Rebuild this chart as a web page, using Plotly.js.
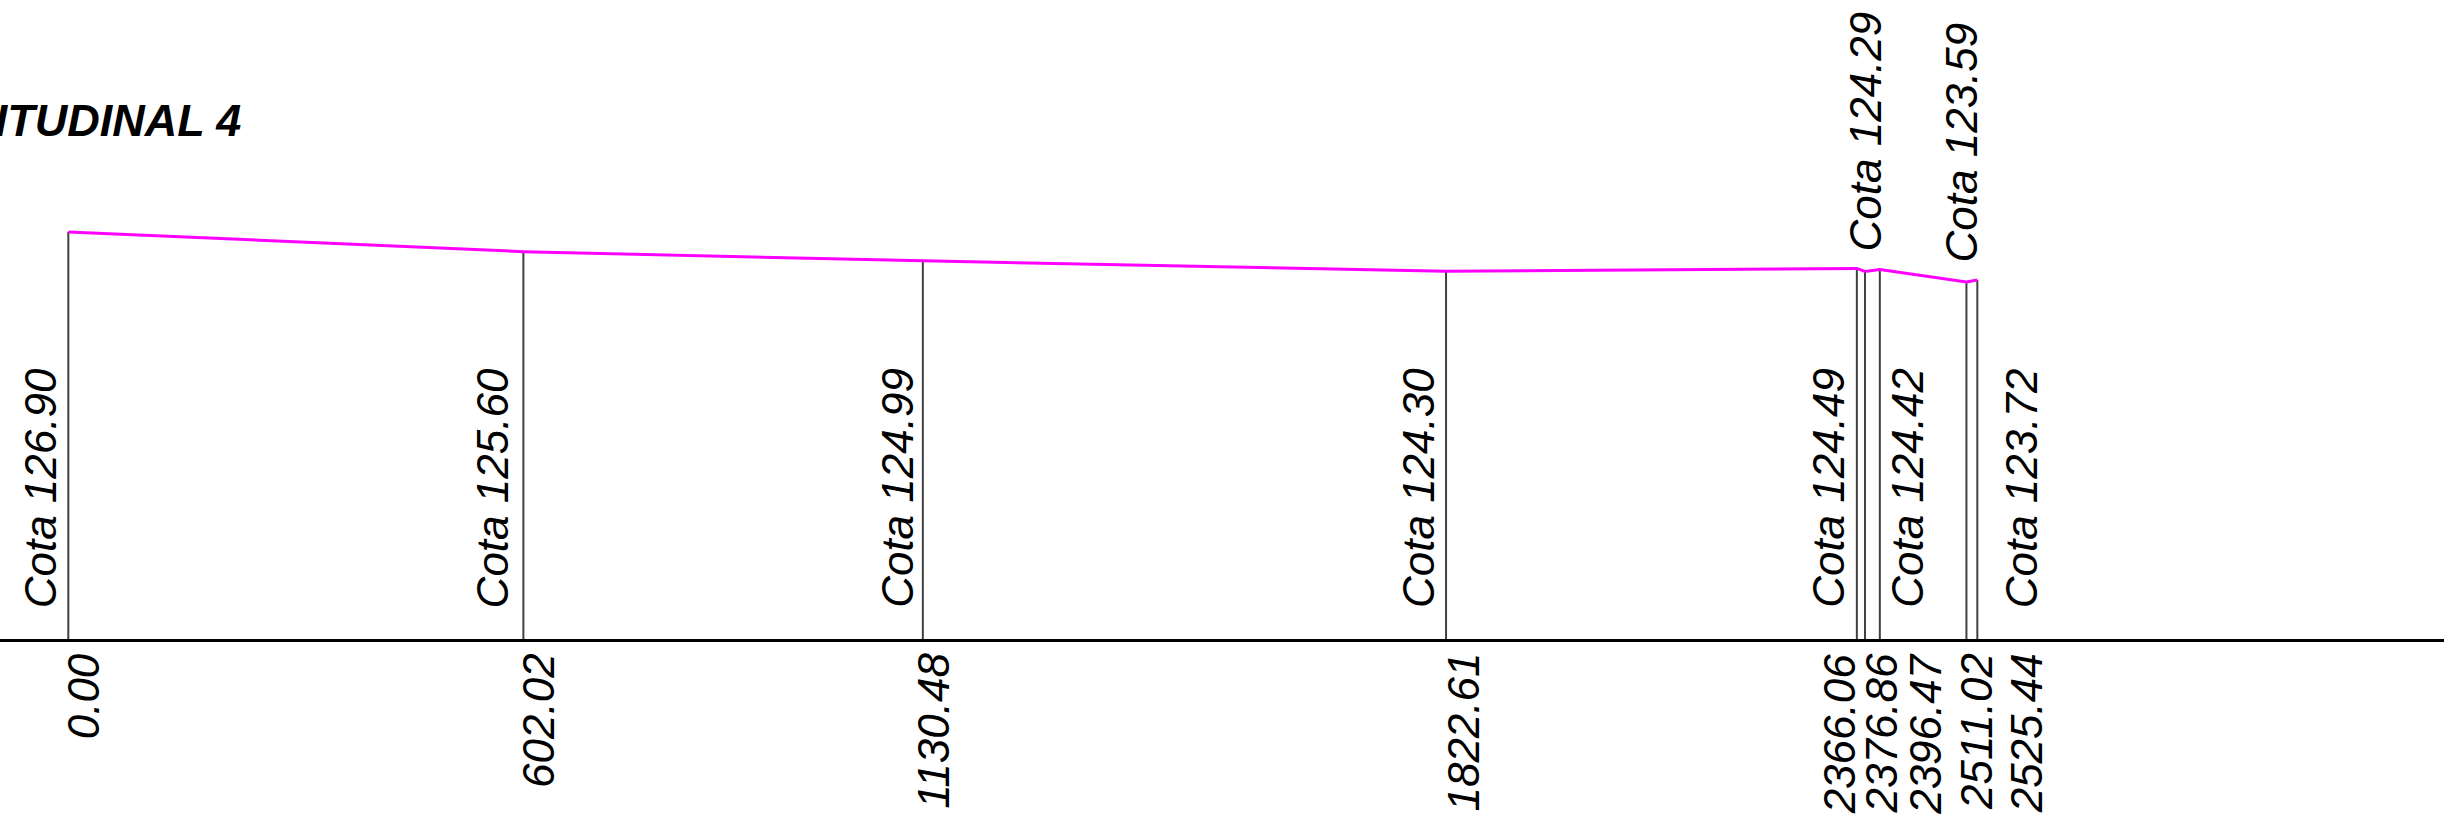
<!DOCTYPE html>
<html><head><meta charset="utf-8">
<script src="https://cdn.plot.ly/plotly-3.0.1.min.js"></script>
<style>html,body{margin:0;padding:0;background:#fff;overflow:hidden}#chart{width:2444px;height:816px}</style>
</head><body><div id="chart"></div>
<script>
// ---- data ----
const distances = [0.00, 602.02, 1130.48, 1822.61, 2366.06, 2376.86, 2396.47, 2511.02, 2525.44];
const elevations = [126.90, 125.60, 124.99, 124.30, 124.49, 124.29, 124.42, 123.59, 123.72];
const distanceLabels = ['0.00', '602.02', '1130.48', '1822.61', '2366.06', '2376.86', '2396.47', '2511.02', '2525.44'];
const elevationLabels = ['Cota 126.90', 'Cota 125.60', 'Cota 124.99', 'Cota 124.30', 'Cota 124.49', 'Cota 124.29', 'Cota 124.42', 'Cota 123.59', 'Cota 123.72'];
const datumElevation = 100;
const titleText = 'PERFIL LONGITUDINAL 4';

// ---- label placement (layout only) ----
const cotaSide = ['below', 'below', 'below', 'below', 'below', 'above', 'below', 'above', 'below'];
const cotaXShift = [-28, -31, -26, -28, -29, 0, 27, -5, 44];
const distXShift = [15, 15, 10, 17, -17, 16, 45, 10, 49];

const labelFont = {family: 'Liberation Sans, Arial, sans-serif', size: 44, color: '#000', style: 'italic'};

// stems from datum to terrain
const stemX = [], stemY = [];
distances.forEach((d, i) => { stemX.push(d, d, null); stemY.push(datumElevation, elevations[i], null); });

const traces = [
  {x: stemX, y: stemY, type: 'scatter', mode: 'lines', line: {color: '#404040', width: 2}, hoverinfo: 'skip', showlegend: false},
  {x: distances, y: elevations, type: 'scatter', mode: 'lines', line: {color: '#ff00ff', width: 3}, showlegend: false}
];

const annotations = [];
distances.forEach((d, i) => {
  const above = cotaSide[i] === 'above';
  annotations.push({
    x: d, y: above ? elevations[i] : datumElevation, xref: 'x', yref: 'y',
    text: elevationLabels[i], showarrow: false, textangle: -90,
    xanchor: 'center', yanchor: 'bottom', xshift: cotaXShift[i], yshift: above ? 18 : 29,
    font: labelFont
  });
  annotations.push({
    x: d, y: datumElevation, xref: 'x', yref: 'y',
    text: distanceLabels[i], showarrow: false, textangle: -90,
    xanchor: 'center', yanchor: 'top', xshift: distXShift[i], yshift: -12,
    font: labelFont
  });
});
annotations.push({
  x: 243 / 2444, y: 0.811, xref: 'paper', yref: 'paper', xanchor: 'right', yanchor: 'middle',
  text: titleText, showarrow: false,
  font: {family: 'Liberation Sans, Arial, sans-serif', size: 45, color: '#000', style: 'italic', weight: 700}
});

const layout = {
  width: 2444, height: 816,
  margin: {l: 0, r: 0, t: 0, b: 177, pad: 0},
  paper_bgcolor: '#fff', plot_bgcolor: '#fff',
  showlegend: false,
  xaxis: {range: [-90.35, 3142.8], showgrid: false, zeroline: false, showticklabels: false, ticks: '',
          showline: true, linecolor: '#000', linewidth: 3, fixedrange: true},
  yaxis: {range: [datumElevation, 142.23], visible: false, showgrid: false, zeroline: false, fixedrange: true},
  annotations: annotations
};

Plotly.newPlot('chart', traces, layout, {displayModeBar: false, staticPlot: true});
</script></body></html>
